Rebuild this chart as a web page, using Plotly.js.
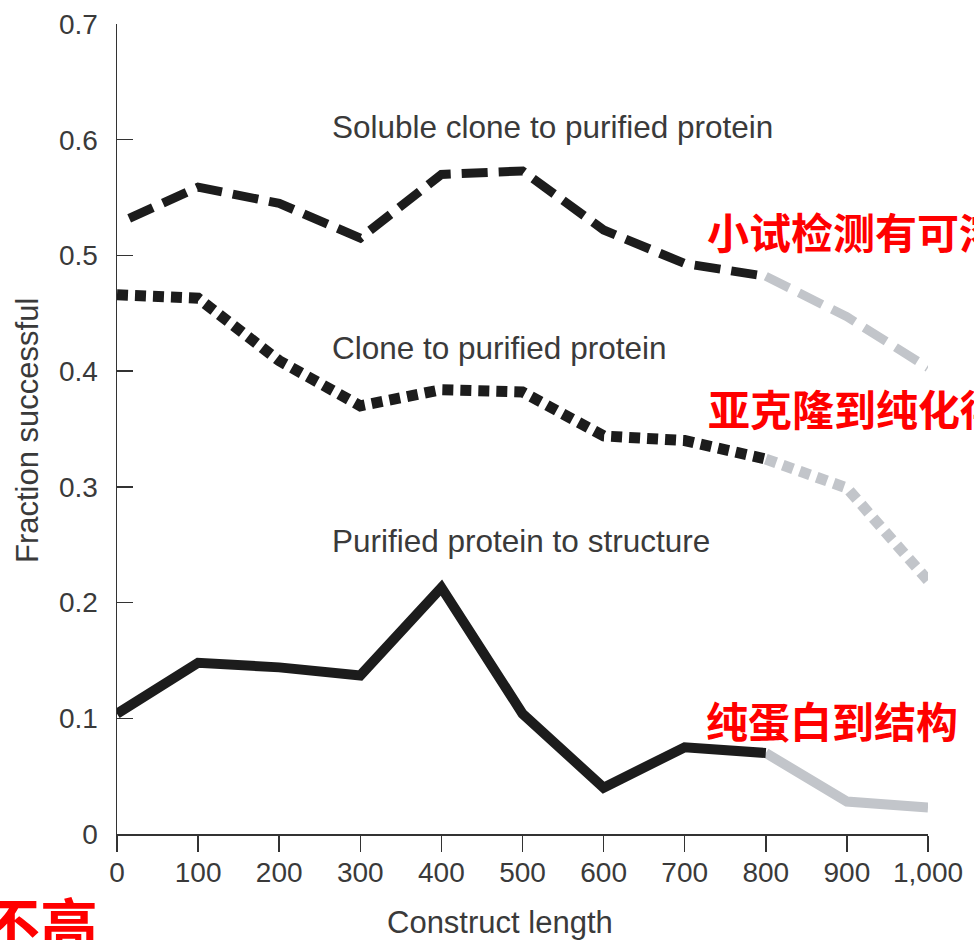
<!DOCTYPE html>
<html>
<head>
<meta charset="utf-8">
<script src="https://cdn.plot.ly/plotly-3.0.1.min.js"></script>
<style>html,body{margin:0;padding:0;background:#fff;}#chart{width:974px;height:940px;}</style>
</head>
<body>
<div id="chart"></div>
<script>
// ---- data ----
const solubleX = [15, 100, 200, 300, 400, 500, 600, 700, 800];
const solubleY = [0.532, 0.559, 0.545, 0.515, 0.570, 0.573, 0.522, 0.493, 0.482];
const solubleGrayX = [800, 900, 1000];
const solubleGrayY = [0.482, 0.447, 0.403];

const cloneX = [0, 100, 200, 300, 400, 500, 600, 700, 800];
const cloneY = [0.466, 0.463, 0.409, 0.370, 0.384, 0.382, 0.344, 0.340, 0.324];
const cloneGrayX = [800, 900, 1000];
const cloneGrayY = [0.324, 0.299, 0.219];

const structX = [0, 100, 200, 300, 400, 500, 600, 700, 800];
const structY = [0.104, 0.148, 0.144, 0.137, 0.213, 0.104, 0.040, 0.075, 0.070];
const structGrayX = [800, 900, 1000];
const structGrayY = [0.070, 0.028, 0.023];

const xTickVals = [0, 100, 200, 300, 400, 500, 600, 700, 800, 900, 1000];
const xTickText = ['0', '100', '200', '300', '400', '500', '600', '700', '800', '900', '1,000'];
const yTickVals = [0, 0.1, 0.2, 0.3, 0.4, 0.5, 0.6, 0.7];
const yTickText = ['0', '0.1', '0.2', '0.3', '0.4', '0.5', '0.6', '0.7'];

const seriesLabels = ['Soluble clone to purified protein', 'Clone to purified protein', 'Purified protein to structure'];
const seriesLabelY = [0.611, 0.420, 0.253];
const redNotes = ['小试检测有可溶性表达', '亚克隆到纯化得到蛋白', '纯蛋白到结构'];
const redBottom = '不高';

// ---- styles ----
const BLACK = '#1c1c1c';
const GRAY = '#c2c5ca';
const TXT = '#3a3a3a';
const FONT = 'Liberation Sans, Arial, Helvetica, sans-serif';
const CJK = 'Noto Sans CJK SC, sans-serif';

const traces = [
  {x: solubleGrayX, y: solubleGrayY, mode: 'lines', line: {color: GRAY, width: 9, dash: '26px,11px'}},
  {x: solubleX, y: solubleY, mode: 'lines', line: {color: BLACK, width: 9, dash: '26px,11px'}},
  {x: cloneGrayX, y: cloneGrayY, mode: 'lines', line: {color: GRAY, width: 11, dash: '11px,7px'}},
  {x: cloneX, y: cloneY, mode: 'lines', line: {color: BLACK, width: 11, dash: '11px,7px'}},
  {x: structGrayX, y: structGrayY, mode: 'lines', line: {color: GRAY, width: 10}},
  {x: structX, y: structY, mode: 'lines', line: {color: BLACK, width: 10}}
].map(t => Object.assign(t, {showlegend: false, hoverinfo: 'skip', cliponaxis: false}));

const L = 117, R = 46, T = 24, B = 106, W = 974, H = 940;
const pw = W - L - R, ph = H - T - B;
const px2x = p => (p - L) / pw;
const px2y = p => (H - B - p) / ph;

const annotations = [];
seriesLabels.forEach((s, i) => annotations.push({
  text: s, x: 263, y: seriesLabelY[i], xref: 'x', yref: 'y', xanchor: 'left', yanchor: 'middle',
  showarrow: false, font: {family: FONT, size: 31.5, color: TXT}
}));
const redPos = [[705, 231], [706, 407], [704, 719]];
redNotes.forEach((s, i) => annotations.push({
  text: s, x: px2x(redPos[i][0]), y: px2y(redPos[i][1]), xref: 'paper', yref: 'paper',
  xanchor: 'left', yanchor: 'middle', showarrow: false,
  font: {family: CJK, size: 42, color: '#ff0000', weight: 'bold'}
}));
annotations.push({
  text: redBottom, x: px2x(100), y: px2y(922), xref: 'paper', yref: 'paper',
  xanchor: 'right', yanchor: 'middle', showarrow: false,
  font: {family: CJK, size: 58, color: '#ff0000', weight: 'bold'}
});
annotations.push({
  text: 'Construct length', x: px2x(500), y: px2y(922), xref: 'paper', yref: 'paper',
  xanchor: 'center', yanchor: 'middle', showarrow: false,
  font: {family: FONT, size: 31, color: TXT}
});
annotations.push({
  text: 'Fraction successful', x: px2x(27), y: px2y(431), xref: 'paper', yref: 'paper',
  xanchor: 'center', yanchor: 'middle', showarrow: false, textangle: -90,
  font: {family: FONT, size: 31, color: TXT}
});

const layout = {
  width: W, height: H,
  margin: {l: L, r: R, t: T, b: B, pad: 0},
  paper_bgcolor: '#ffffff', plot_bgcolor: '#ffffff',
  xaxis: {
    range: [0, 1000], showgrid: false, zeroline: false, showline: true,
    linecolor: '#333333', linewidth: 1.5,
    ticks: 'outside', ticklen: 16, tickwidth: 1.5, tickcolor: '#333333',
    tickvals: xTickVals, ticktext: xTickText,
    ticklabelstandoff: -3,
    tickfont: {family: FONT, size: 28, color: TXT}, fixedrange: true
  },
  yaxis: {
    range: [0, 0.7], showgrid: false, zeroline: false, showline: true,
    linecolor: '#333333', linewidth: 1.5,
    ticks: 'inside', ticklen: 16, tickwidth: 1.5, tickcolor: '#333333',
    tickvals: yTickVals, ticktext: yTickText,
    ticklabelstandoff: 12,
    tickfont: {family: FONT, size: 28, color: TXT}, fixedrange: true
  },
  annotations: annotations
};

Plotly.newPlot('chart', traces, layout, {staticPlot: true, displayModeBar: false});
</script>
</body>
</html>
